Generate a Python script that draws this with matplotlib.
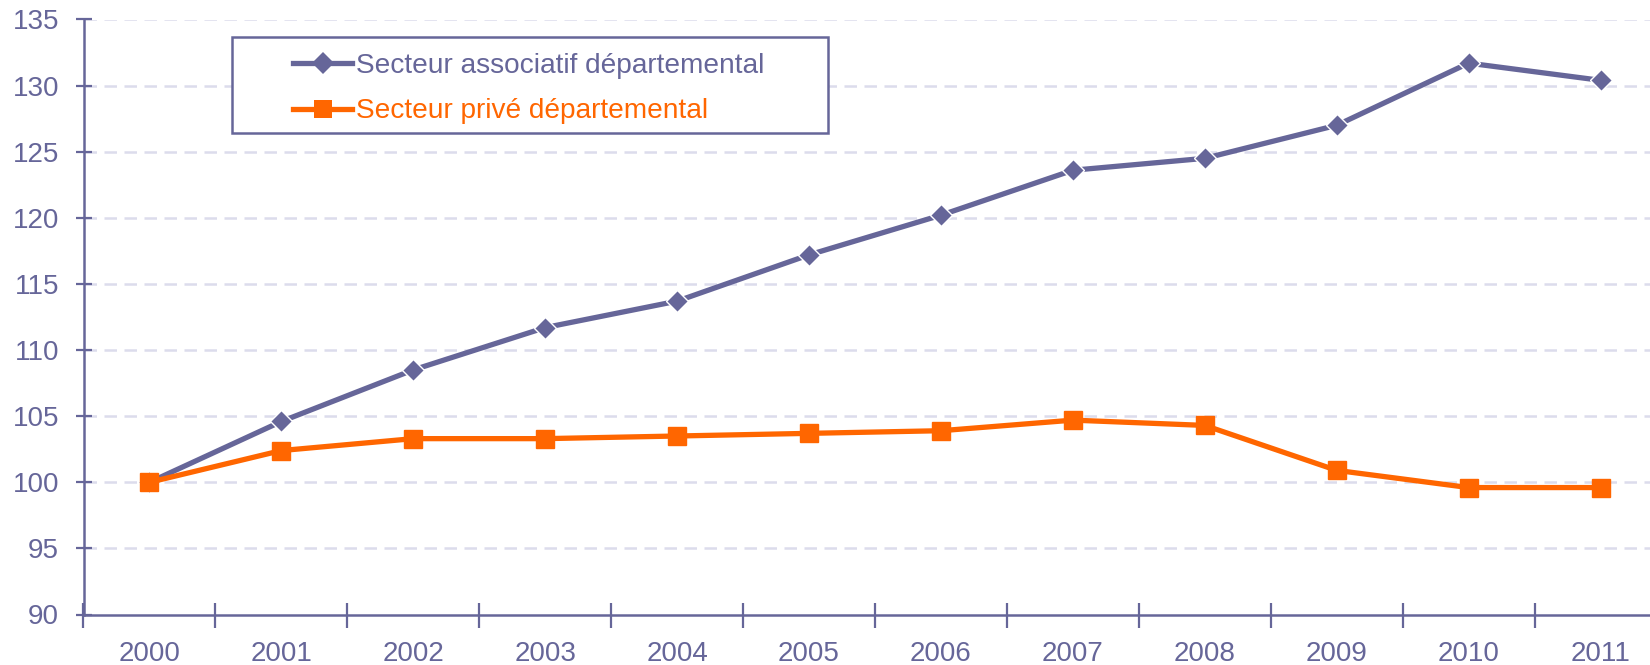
import numpy as np
import matplotlib.pyplot as plt
from matplotlib.patches import Rectangle

plt.rcParams['font.family'] = ['Liberation Sans', 'DejaVu Sans']

# données (indice base 100 en 2000)
annees = ['2000', '2001', '2002', '2003', '2004', '2005',
          '2006', '2007', '2008', '2009', '2010', '2011']
associatif = [100.0, 104.6, 108.5, 111.7, 113.7, 117.2,
              120.2, 123.6, 124.5, 127.0, 131.7, 130.4]
prive = [100.0, 102.4, 103.3, 103.3, 103.5, 103.7,
         103.9, 104.7, 104.3, 100.9, 99.6, 99.6]

violet = '#666699'
orange = '#FF6600'
grille = '#DCDCEC'

fig = plt.figure(figsize=(16.5, 6.65), dpi=100)
ax = fig.add_axes([83.5 / 1650, 1 - 614.5 / 665, 1583 / 1650, 595 / 665])

x = np.arange(len(annees))
ax.plot(x, associatif, color=violet, lw=3.8, marker='D', ms=11.5,
        mec='white', mew=1.0, label='Secteur associatif départemental', zorder=3)
ax.plot(x, prive, color=orange, lw=3.8, marker='s', ms=12.5,
        label='Secteur privé départemental', zorder=4)

ax.set_xlim(-0.5, len(annees) - 0.5)
ax.set_ylim(90, 135)
ax.set_yticks(np.arange(90, 136, 5))

# graduations aux limites des catégories, libellés au centre
ax.set_xticks(np.arange(-0.5, len(annees), 1))
ax.set_xticklabels([])
ax.set_xticks(x, minor=True)
ax.set_xticklabels(annees, minor=True)
ax.tick_params(axis='x', which='major', direction='inout', length=18,
               width=1.6, color=violet)
ax.tick_params(axis='x', which='minor', length=0, pad=19,
               labelsize=20, labelcolor=violet)
ax.tick_params(axis='y', direction='inout', length=12, width=1.6,
               color=violet, labelsize=20, labelcolor=violet, pad=11.5)

for s in ['top', 'right']:
    ax.spines[s].set_visible(False)
for s in ['left', 'bottom']:
    ax.spines[s].set_color(violet)
    ax.spines[s].set_linewidth(1.8)

for v in np.arange(95, 136, 5):
    ax.axhline(v, color=grille, lw=1.8, ls=(0, (5, 3)), zorder=1)

# cadre de la légende
ax.add_patch(Rectangle((0.0935, 0.8091), 0.3765, 0.1615, transform=ax.transAxes,
                       fill=True, facecolor='white', edgecolor=violet, lw=1.8,
                       zorder=5, clip_on=False))
leg = ax.legend(loc='upper left', bbox_to_anchor=(0.1237, 0.968), frameon=False,
                fontsize=20.2, labelcolor='linecolor', handlelength=2.1,
                handletextpad=0.15, labelspacing=0.71, borderpad=0, numpoints=1)
leg.set_zorder(6)
for h in leg.legend_handles:
    h.set_markeredgewidth(0)

fig.savefig('out.png', dpi=100)
